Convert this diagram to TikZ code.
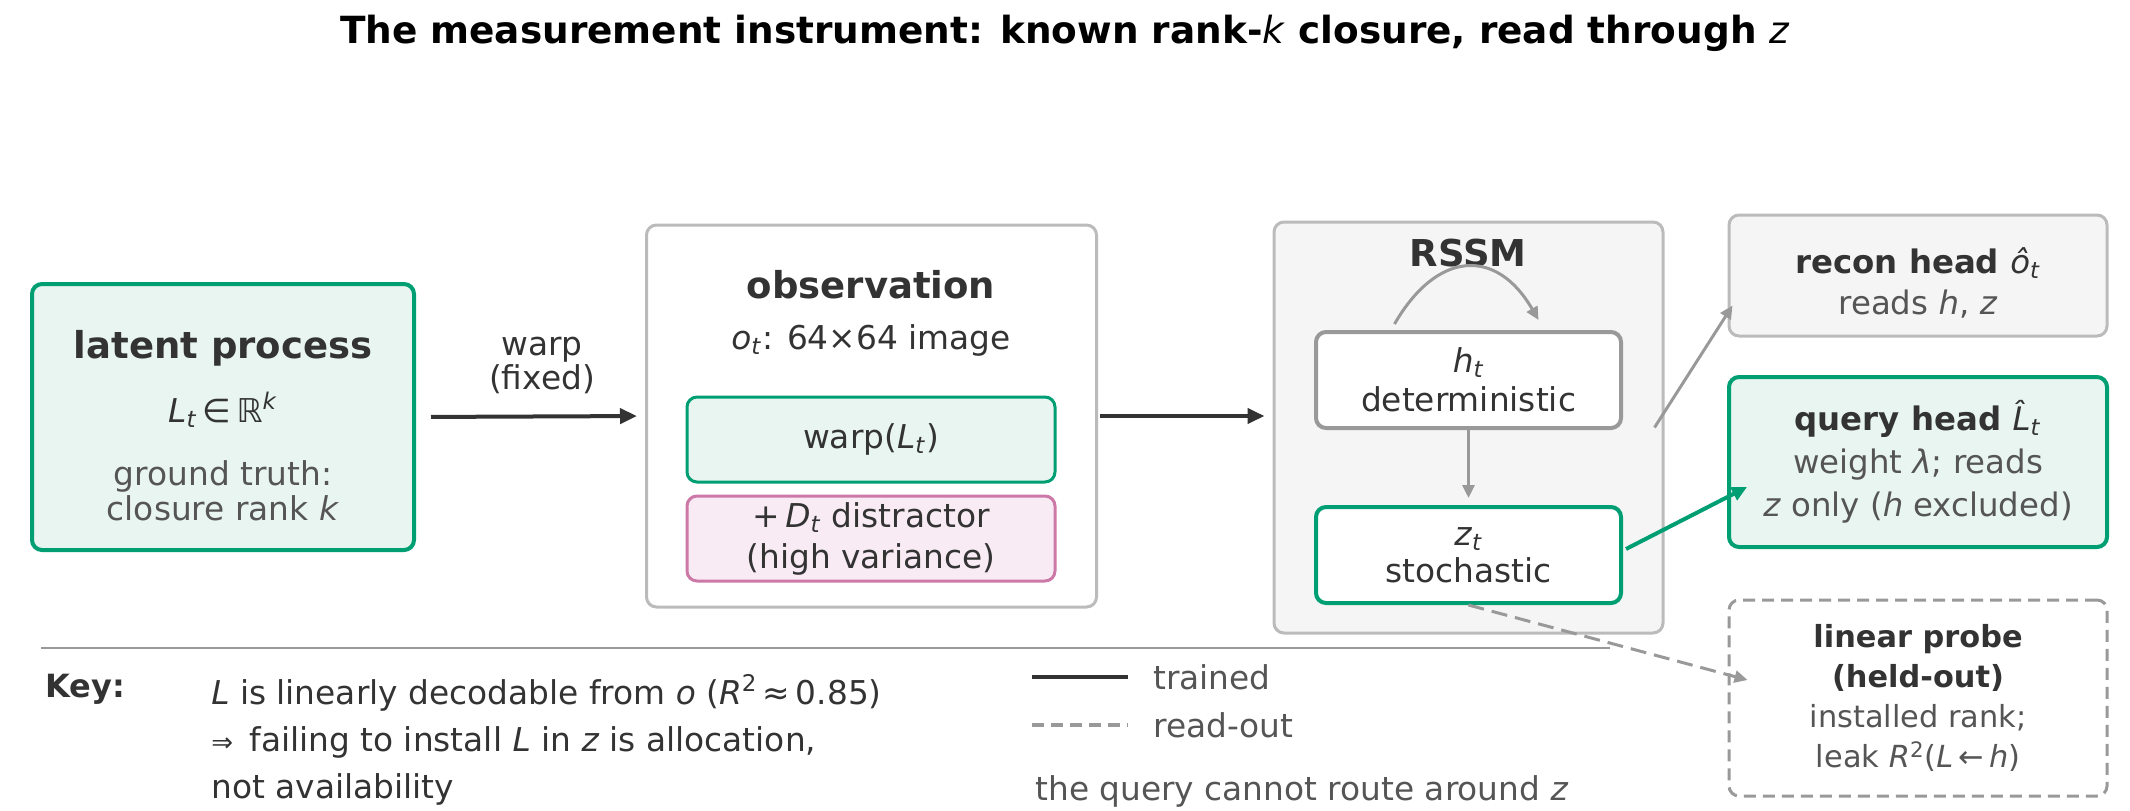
\documentclass[tikz,border=0pt]{standalone}
\usepackage{fontspec}
\setmainfont{DejaVu Sans}
\usetikzlibrary{arrows.meta,positioning}

\definecolor{ink}{HTML}{333333}
\definecolor{soft}{HTML}{555555}
\definecolor{okgreen}{HTML}{009E73}
\definecolor{mintfill}{HTML}{E8F5F0}
\definecolor{pinkline}{HTML}{CC79A7}
\definecolor{pinkfill}{HTML}{F8EBF3}
\definecolor{frame}{HTML}{BBBBBB}
\definecolor{wire}{HTML}{999999}
\definecolor{panel}{HTML}{F5F5F5}

\newcommand{\fhead}{\fontsize{18.5pt}{22pt}\selectfont\bfseries}
\newcommand{\fbody}{\fontsize{16.4pt}{20pt}\selectfont}
\newcommand{\fsmall}{\fontsize{16.2pt}{20.5pt}\selectfont}
\newcommand{\iv}[1]{\textit{#1}}
\newcommand{\lsub}[1]{\textsubscript{\textit{#1}}}

\tikzset{
  box/.style={draw, rounded corners=5pt, line width=1.5pt, inner sep=0pt, align=center, text=ink},
  greenbox/.style={box, draw=okgreen, fill=mintfill, line width=2pt},
  greybox/.style={box, draw=frame, fill=white},
  panelbox/.style={box, draw=frame, fill=panel},
  pinkbox/.style={box, draw=pinkline, fill=pinkfill},
  probebox/.style={box, draw=wire, fill=white, dash pattern=on 6pt off 3.5pt},
  txt/.style={inner sep=0pt, align=center, text=ink},
  darrow/.style={draw=ink, line width=2pt, -{Triangle[length=8.5pt,width=7.5pt]}},
  garrow/.style={draw=wire, line width=1.5pt, -{Triangle[length=6.5pt,width=6pt]}},
  qarrow/.style={draw=okgreen, line width=2pt, -{Triangle[length=7.5pt,width=7pt]}},
  rarrow/.style={draw=wire, line width=1.5pt, dash pattern=on 8pt off 4pt, -{Triangle[length=6.5pt,width=6pt]}}
}

\begin{document}
\begin{tikzpicture}[x=0.5pt,y=-0.5pt]
\useasboundingbox (0,0) rectangle (2130,810);

% title
\node[txt, text=black, font=\fontsize{18.7pt}{22pt}\selectfont\bfseries] (title) at (1065,33)
  {The measurement instrument: known rank-\textmd{\iv{k}} closure, read through \textmd{\iv{z}}};

% latent process
\node[greenbox, minimum width=191pt, minimum height=133pt] (latent) at (223,417) {};
\node[txt, font=\fhead] (latenthd) at (223,348) {latent process};
\node[txt, font=\fbody] (latentvar) at (223,410) {\iv{L}\lsub{t}\,∈\,\iv{ℝ}\textsuperscript{\iv{k}}};
\node[txt, text=soft, font=\fontsize{16.4pt}{17.5pt}\selectfont] (latentgt) at (223,491) {ground truth:\\closure rank \iv{k}};

% observation
\node[greybox, minimum width=225pt, minimum height=191pt] (obs) at (871.5,416) {};
\node[txt, font=\fhead] (obshd) at (871,285) {observation};
\node[txt, font=\fbody] (obsimg) at (871,340) {\iv{o}\lsub{t}: 64×64 image};
\node[greenbox, line width=1.5pt, font=\fbody, minimum width=184pt, minimum height=42.5pt] (warp) at (871,439.5) {warp(\iv{L}\lsub{t})};
\node[pinkbox, font=\fontsize{16.4pt}{20.5pt}\selectfont, minimum width=184pt, minimum height=42.5pt] (distr) at (871,538.5)
  {+\,\iv{D}\lsub{t} distractor\\(high variance)};

% RSSM
\node[panelbox, minimum width=194.5pt, minimum height=205.5pt] (rssm) at (1468.5,427.5) {};
\node[txt, font=\fhead] (rssmhd) at (1468,253) {RSSM};
\node[box, draw=wire, fill=white, line width=2pt, font=\fontsize{16.4pt}{19.5pt}\selectfont, minimum width=152.5pt, minimum height=48pt] (h) at (1468.5,380)
  {\iv{h}\lsub{t}\\deterministic};
\node[box, draw=okgreen, fill=white, line width=2pt, font=\fontsize{16.4pt}{18.5pt}\selectfont, minimum width=152.5pt, minimum height=48pt] (z) at (1468.5,555)
  {\iv{z}\lsub{t}\\stochastic};

% heads
\node[panelbox, minimum width=189pt, minimum height=60.5pt] (recon) at (1918,275.5) {};
\node[txt, text=soft, font=\fsmall] (recontxt) at (1918,283)
  {{\color{ink}\bfseries recon head \textmd{\iv{ô}\lsub{t}}}\\reads \iv{h}, \iv{z}};
\node[greenbox, text=soft, font=\fontsize{16.2pt}{21.5pt}\selectfont, minimum width=189pt, minimum height=85pt] (query) at (1918,462)
  {{\color{ink}\bfseries query head \textmd{\iv{L̂}\lsub{t}}}\\weight \iv{λ}; reads\\\iv{z} only (\iv{h} excluded)};
\node[probebox, text=soft, font=\fontsize{15.2pt}{20pt}\selectfont, minimum width=189pt, minimum height=98pt] (probe) at (1918,698)
  {{\color{ink}\bfseries linear probe}\\{\color{ink}\bfseries (held-out)}\\installed rank;\\leak \iv{R}\textsuperscript{2}(\iv{L}\,←\,\iv{h})};

% connectors
\node[txt, font=\fontsize{16.4pt}{17pt}\selectfont] (warplbl) at (542,365) {warp\\(fixed)};
\draw[darrow, shorten <=7.5pt, shorten >=4pt] (latent.east) -- (obs.west);
\draw[darrow, shorten <=1pt, shorten >=4pt] (obs.east) -- (obs.east -| rssm.west);
\draw[garrow] ([xshift=-37pt,yshift=3pt]h.north) to[out=60,in=120,looseness=1.5] ([xshift=35pt,yshift=5pt]h.north);
\draw[garrow, shorten >=3.5pt] (h.south) -- (z.north);
\draw[garrow] ([xshift=-5pt]rssm.east) -- ([xshift=2.5pt,yshift=-15pt]recon.west);
\draw[qarrow] ([xshift=1.5pt,yshift=3pt]z.east) -- ([xshift=10pt,yshift=-12.5pt]query.west);
\draw[rarrow] (z.south) -- ([xshift=10pt,yshift=9pt]probe.west);

% key
\draw[wire, line width=1.2pt] (41,648) -- (1610,648);
\node[txt, anchor=west, font=\fontsize{16pt}{20pt}\selectfont\bfseries] (keyhd) at (45,689) {Key:};
\node[txt, anchor=west, align=left, font=\fontsize{16.4pt}{23.5pt}\selectfont] (keytxt) at (211,740)
  {\iv{L} is linearly decodable from \iv{o} (\iv{R}\textsuperscript{2}\,≈\,0.85)\\{\fontsize{13pt}{23.5pt}\selectfont⇒}\enspace failing to install \iv{L} in \iv{z} is allocation,\\not availability};
\coordinate (trainA) at (1032,677);
\coordinate (trainB) at (1128,677);
\coordinate (readA) at (1032,725);
\coordinate (readB) at (1128,725);
\draw[ink, line width=2.2pt] (trainA) -- (trainB);
\draw[wire, line width=2pt, dash pattern=on 6pt off 3.5pt] (readA) -- (readB);
\node[txt, anchor=west, text=soft, font=\fbody] (trainlbl) at (1153,677) {trained};
\node[txt, anchor=west, text=soft, font=\fbody] (readlbl) at (1153,725) {read-out};
\node[txt, anchor=west, text=soft, font=\fbody] (routelbl) at (1035,791) {the query cannot route around \iv{z}};
\end{tikzpicture}
\end{document}
